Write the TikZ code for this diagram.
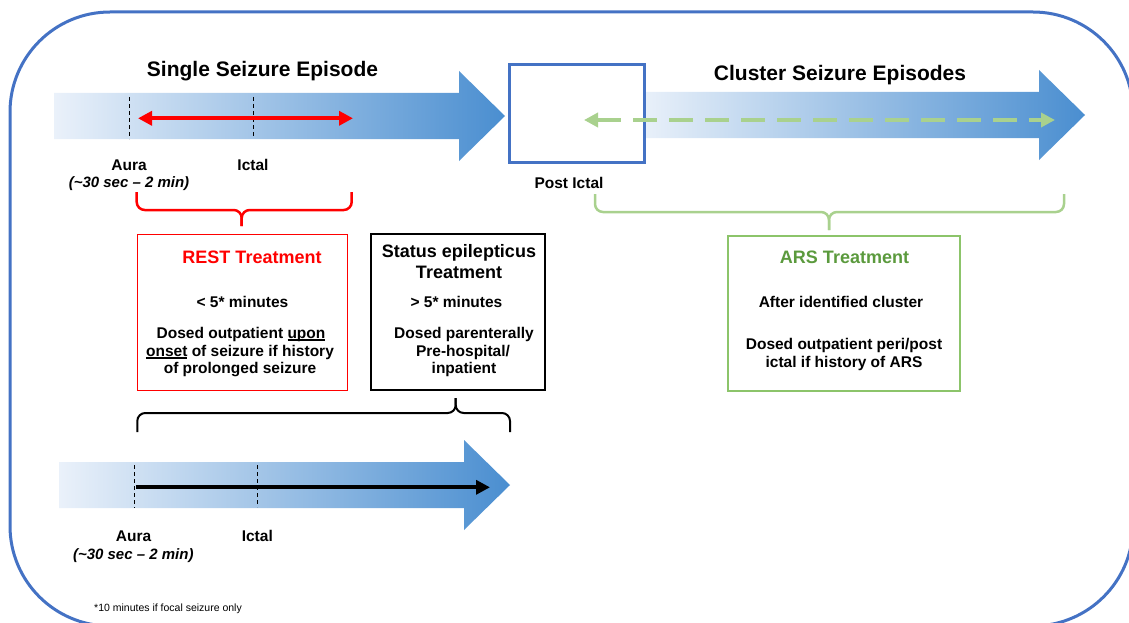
\documentclass[tikz,border=0pt]{standalone}
\usepackage{fontspec}
\setmainfont{Liberation Sans}
\usetikzlibrary{arrows.meta}

\definecolor{frameblue}{HTML}{4472C4}
\definecolor{shaftlight}{HTML}{EAF1FA}
\definecolor{shaftdark}{HTML}{4A8ED0}
\definecolor{restred}{HTML}{FF0000}
\definecolor{arslight}{HTML}{A9D18E}
\definecolor{arsline}{HTML}{8CC46A}
\definecolor{arstext}{HTML}{5B9A3D}

% underline that runs through the descenders
\newsavebox\ulbox
\newcommand\ulword[1]{\sbox\ulbox{#1}\rlap{\rule[-2.6pt]{\wd\ulbox}{1.6pt}}\usebox\ulbox}

\tikzset{
  title/.style={font=\fontsize{21}{24}\selectfont\bfseries, anchor=base, inner sep=0pt},
  lbl/.style={font=\fontsize{15.5}{18}\selectfont\bfseries, anchor=base, inner sep=0pt},
  lblit/.style={font=\fontsize{15}{18}\selectfont\bfseries\itshape, anchor=base, inner sep=0pt},
  boxhead/.style={font=\fontsize{18}{21}\selectfont\bfseries, anchor=base, inner sep=0pt},
  note/.style={font=\fontsize{10.5}{12}\selectfont, anchor=base, inner sep=0pt},
  phase/.style={line width=0.9pt, dash pattern=on 4pt off 3pt},
  brace/.style={line width=2.5pt, rounded corners=8pt},
  tbox/.style={draw, fill=white, inner sep=0pt},
  spantip/.tip={Triangle[length=14pt,width=14pt]},
}

\begin{document}
\begin{tikzpicture}[x=1pt,y=-1pt]
    \useasboundingbox (0,0) rectangle (1129,623);

    % Outer frame
    \draw[frameblue, line width=3pt, rounded corners=100pt] (10,12) rectangle (1133,626);

    % Single seizure arrow
    \shade[left color=shaftlight, right color=shaftdark]
        (54,93) -- (459,93) -- (459,71) -- (505,116) -- (459,161) -- (459,139) -- (54,139) -- cycle;
    \node[title] (single) at (262.5,76.5) {Single Seizure Episode};

    % Aura / ictal marks
    \coordinate (auraAtop) at (129,97);
    \coordinate (auraAbot) at (129,139);
    \coordinate (ictalAtop) at (253,97);
    \coordinate (ictalAbot) at (253,138);
    \draw[phase] (auraAtop) -- (auraAbot);
    \draw[phase] (ictalAtop) -- (ictalAbot);
    \node[lbl] (auraA) at (129,170) {Aura};
    \node[lblit] (auraAtime) at (129,187) {(\textasciitilde30 sec \textendash\ 2 min)};
    \node[lbl] (ictalA) at (253,170) {Ictal};

    % REST window
    \coordinate (restL) at (138,118.3);
    \coordinate (restR) at (353,118.3);
    \draw[restred, line width=3.8pt, {spantip}-{spantip}] (restL) -- (restR);

    % REST brace
    \draw[brace, restred] (136.7,192) -- (136.7,210) -- (241.7,210) -- (241.7,226);
    \draw[brace, restred] (351.7,192) -- (351.7,210) -- (241.7,210) -- (241.7,226);

    % REST box
    \node[tbox, draw=restred, line width=1pt, minimum width=210pt, minimum height=156pt] (rest) at (242.5,312) {};
    \node[boxhead, text=restred] (restT) at (252,263) {REST Treatment};
    \node[lbl] (restA) at (242.5,307.7) {< 5* minutes};
    \node[lbl] (restB) at (241,338.3) {Dosed outpatient \ulword{upon}};
    \node[lbl] (restC) at (240,356) {\ulword{onset} of seizure if history};
    \node[lbl] (restD) at (240,373.5) {of prolonged seizure};

    % Status epilepticus box
    \node[tbox, line width=1.2pt, minimum width=174pt, minimum height=156pt] (status) at (458,312) {};
    \node[boxhead] (statusT) at (459,257.7) {Status epilepticus};
    \node[boxhead] (statusU) at (459,278) {Treatment};
    \node[lbl] (statusA) at (456.5,307.7) {> 5* minutes};
    \node[lbl] (statusB) at (464,338.3) {Dosed parenterally};
    \node[lbl] (statusC) at (463,356) {Pre-hospital/};
    \node[lbl] (statusD) at (464,373.5) {inpatient};

    % Status brace
    \draw[brace, line width=2pt] (137.3,432) -- (137.3,413) -- (455.7,413) -- (455.7,398);
    \draw[brace, line width=2pt] (510,432) -- (510,413) -- (455.7,413) -- (455.7,398);

    % Prolonged seizure arrow
    \shade[left color=shaftlight, right color=shaftdark]
        (59,462) -- (464,462) -- (464,440) -- (510,485) -- (464,530) -- (464,508) -- (59,508) -- cycle;
    \coordinate (auraBtop) at (134.3,465);
    \coordinate (auraBbot) at (134.3,508);
    \coordinate (ictalBtop) at (257.3,465);
    \coordinate (ictalBbot) at (257.3,507);
    \draw[phase] (auraBtop) -- (auraBbot);
    \draw[phase] (ictalBtop) -- (ictalBbot);
    \coordinate (statusL) at (135.7,487.3);
    \coordinate (statusR) at (490,487.3);
    \draw[line width=4pt, -{spantip}] (statusL) -- (statusR);
    \node[lbl] (auraB) at (133.5,541.7) {Aura};
    \node[lblit] (auraBtime) at (133.3,559) {(\textasciitilde30 sec \textendash\ 2 min)};
    \node[lbl] (ictalB) at (257.3,541.7) {Ictal};

    % Footnote
    \node[note] (foot) at (168,611) {*10 minutes if focal seizure only};

    % Cluster arrow
    \shade[left color=shaftlight, right color=shaftdark]
        (640,92) -- (1039,92) -- (1039,70) -- (1085,115) -- (1039,160) -- (1039,138) -- (640,138) -- cycle;
    \node[title] (cluster) at (840,80.5) {Cluster Seizure Episodes};

    % Post ictal box
    \node[tbox, draw=frameblue, line width=3pt, minimum width=135pt, minimum height=97pt] (post) at (576.5,113.5) {};
    \node[lbl] (postL) at (569,188) {Post Ictal};

    % ARS window
    \coordinate (arsL) at (584,120);
    \coordinate (arsR) at (1055,120);
    \draw[arslight, line width=4.2pt, dash pattern=on 24pt off 12pt, {spantip}-{spantip}] (arsL) -- (arsR);

    % ARS brace
    \draw[brace, arslight] (595,194) -- (595,212) -- (829,212) -- (829,230);
    \draw[brace, arslight] (1064,194) -- (1064,212) -- (829,212) -- (829,230);

    % ARS box
    \node[tbox, draw=arsline, line width=1.2pt, minimum width=232pt, minimum height=155pt] (ars) at (844,313.5) {};
    \node[boxhead, text=arstext] (arsT) at (844.5,263) {ARS Treatment};
    \node[lbl] (arsA) at (841,307) {After identified cluster};
    \node[lbl] (arsB) at (844,349) {Dosed outpatient peri/post};
    \node[lbl] (arsC) at (844,367) {ictal if history of ARS};
\end{tikzpicture}
\end{document}
